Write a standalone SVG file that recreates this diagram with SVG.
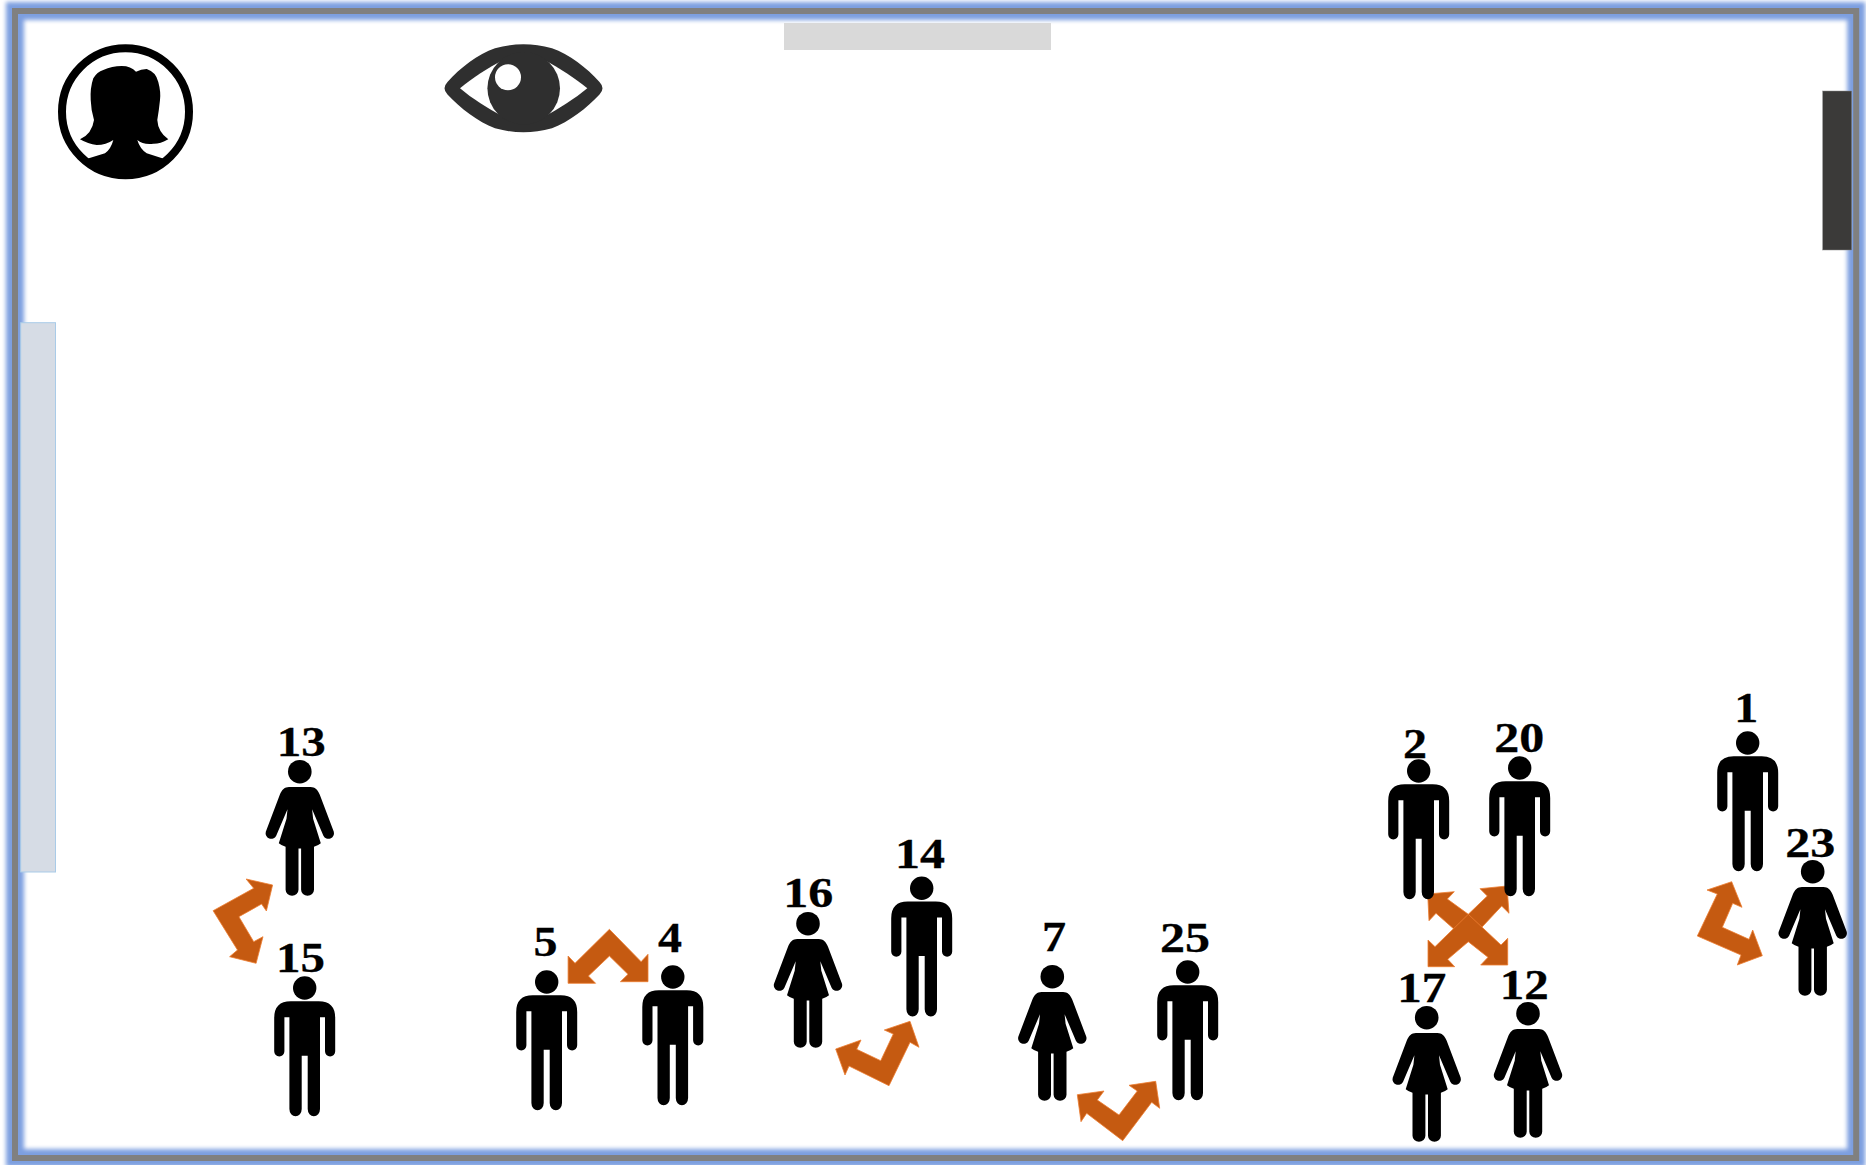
<svg xmlns="http://www.w3.org/2000/svg" xmlns:xlink="http://www.w3.org/1999/xlink" width="1866" height="1165" viewBox="0 0 1866 1165">
<style>
.lbl{font-family:"Liberation Serif","Times New Roman",serif;font-weight:700;font-size:43px;fill:#000;stroke:#000;stroke-width:.3;text-anchor:middle}
.arr{fill:#c55a11;stroke:#ed7d31;stroke-width:.8;stroke-linejoin:miter}
</style>
<defs>
<filter id="glow" x="-2%" y="-2%" width="104%" height="104%"><feGaussianBlur stdDeviation="2"/></filter>
<g id="man"><circle cx="0" cy="0" r="11.7"/><path d="M-14 13.3H14Q30.5 13.3 30.5 30V63.3A5.1 5.1 0 0 1 20.3 63.3V29.3H15.3V121A6.15 7.3 0 0 1 3 121V67.7H-3V121A6.15 7.3 0 0 1-15.3 121V29.3H-20.3V63.3A5.1 5.1 0 0 1-30.5 63.3V30Q-30.5 13.3-14 13.3Z"/></g>
<g id="woman"><circle cx="0" cy="0" r="11.8"/><path d="M-10.8 15.3H10.800C15 15.3 18 18 20 23L34 60A5.6 5.6 0 0 1 23.6 64L12.3 37.500L13.3 47L21 71.5Q18 74 14.2 75V118A6.45 6 0 0 1 1.300 118V76.7H-1.300V118A6.45 6 0 0 1-14.200 118V75Q-18 74-21 71.500L-13.300 47L-12.300 37.500L-23.600 64A5.6 5.6 0 0 1-34 60L-20 23C-18 18-15 15.300-10.800 15.300Z"/></g>
</defs>
<rect width="1866" height="1165" fill="#fff"/>
<g id="frame">
<rect x="15" y="11" width="1841.2" height="1147" fill="none" stroke="#7d9fe0" stroke-width="18" filter="url(#glow)"/>
<rect x="15" y="11" width="1841.2" height="1147" fill="none" stroke="#808080" stroke-width="6"/>
</g>
<g id="top-bar"><rect x="784" y="23" width="267" height="27" fill="#d9d9d9"/></g>
<g id="right-bar"><rect x="1822.7" y="91" width="29" height="159" fill="#3b3a39" stroke="#8a8a8a" stroke-width=".5"/></g>
<g id="left-bar"><rect x="20.7" y="322.7" width="34.8" height="549.3" fill="#d6dce5" stroke="#a9cbe8" stroke-width="1"/></g>
<g id="observer">
<path d="M121.7 66Q131 66 136 71.7Q141 69 146.700 69Q156 72 158.300 82Q161 92 160 100Q159 110 157.300 120Q158 132 168.300 139.300Q160 144 153.300 143.800Q143 145 137.300 140Q140 149 146.700 153.300L163 158.500L167 161.500A65 65 0 0 1 84 161.500L88 158.500L105 153.300Q111 149 113.300 140Q106 145 96.700 145Q88 144 80 139.300Q92 134 94 120Q91 110 90.700 100Q90 88 93.300 78.300Q97 72 103.300 70Q112 66 121.700 66Z" fill="#000"/>
<circle cx="125.500" cy="111.700" r="63.500" fill="none" stroke="#000" stroke-width="8"/>
</g>
<g id="eye">
<path d="M447.500 82C460 68 478 54 495 48.300C505 45.500 514 44.300 523.500 44.300C533 44.300 542 45.500 552 48.300C569 54 587 68 599.500 82Q605.500 88.300 599.500 94.600C587 108 569 122 552 128.300C542 131 533 132.300 523.500 132.300C514 132.300 505 131 495 128.300C478 122 460 108 447.500 94.600Q441.500 88.300 447.500 82Z" fill="#2f2f2f"/>
<path d="M460 88.300C472 78 488 68 503.300 60L544.300 60C559 68 575 78 587.300 88.300C575 98.600 559 108.600 544.300 116.500L503.300 116.500C488 108.600 472 98.600 460 88.300Z" fill="#fff"/>
<circle cx="523.700" cy="88.300" r="36.300" fill="#2f2f2f"/>
<circle cx="508" cy="77.200" r="13" fill="#fff"/>
</g>
<g id="connectors">
<polygon class="arr" points="272.6,885 266.4,911 261.6,904 238.9,916.7 253.7,941.7 263,936.7 256.1,963.3 229.6,956.7 237.5,950 213.1,910.7 253.7,888.3 246.1,879"/>
<polygon class="arr" points="609.4,929.3 641.1,961.7 648,954.3 648,981.7 620.4,981.7 628,974.3 609.4,956 588.4,976 595.6,983.3 568.1,983.3 568.1,956 575,963.3"/>
<polygon class="arr" points="835.7,1049 861,1040 856.7,1049.3 880.7,1060.7 893.3,1034 884.3,1030 910,1021.3 919,1047.3 910,1042.3 889,1085.7 849,1066 845,1075"/>
<polygon class="arr" points="1077.3,1094.7 1104,1091 1097.3,1100 1119,1115 1137.3,1091 1129,1085.3 1155.7,1081.3 1159.7,1108.3 1151.7,1102.3 1122.7,1140.7 1086.7,1113.3 1081,1121.7"/>
<polygon class="arr" points="1468.3,914.3 1487.3,896 1480,888.7 1507,886 1509,913.3 1501.7,906 1468.3,941.7 1436,913.3 1429,920.7 1427.7,894 1454.3,891.7 1447.3,899"/>
<polygon class="arr" points="1468.3,914.3 1501,945 1507.7,938.3 1507.7,965 1480.7,965 1488,957.3 1468.3,941.7 1447.7,959.3 1454.7,966.7 1428,966.7 1428,940 1435,946.7"/>
<polygon class="arr" points="1731.7,881.7 1742,907.3 1732.7,903.3 1722.3,927.3 1749,939.3 1752.7,930 1762.3,955.7 1737.3,965 1741,955 1697.3,936 1717.3,894 1707,890"/>
</g>
<g id="p13"><use href="#woman" x="299.8" y="771.7"/><text class="lbl" x="301.2" y="756" textLength="49" lengthAdjust="spacingAndGlyphs">13</text></g>
<g id="p15"><use href="#man" x="304.7" y="988"/><text class="lbl" x="300.5" y="972.3" textLength="49" lengthAdjust="spacingAndGlyphs">15</text></g>
<g id="p5"><use href="#man" x="546.7" y="982"/><text class="lbl" x="545.4" y="956" textLength="24" lengthAdjust="spacingAndGlyphs">5</text></g>
<g id="p4"><use href="#man" x="672.8" y="977"/><text class="lbl" x="670" y="951.7" textLength="24" lengthAdjust="spacingAndGlyphs">4</text></g>
<g id="p16"><use href="#woman" x="808" y="923.7"/><text class="lbl" x="808.3" y="907.3" textLength="50" lengthAdjust="spacingAndGlyphs">16</text></g>
<g id="p14"><use href="#man" x="921.7" y="888.3"/><text class="lbl" x="920" y="868.3" textLength="50" lengthAdjust="spacingAndGlyphs">14</text></g>
<g id="p7"><use href="#woman" x="1052.3" y="976.7"/><text class="lbl" x="1054" y="951" textLength="24" lengthAdjust="spacingAndGlyphs">7</text></g>
<g id="p25"><use href="#man" x="1187.7" y="972"/><text class="lbl" x="1185" y="952.3" textLength="50" lengthAdjust="spacingAndGlyphs">25</text></g>
<g id="p2"><use href="#man" x="1418.7" y="771"/><text class="lbl" x="1415" y="757.7" textLength="24" lengthAdjust="spacingAndGlyphs">2</text></g>
<g id="p20"><use href="#man" x="1519.7" y="768"/><text class="lbl" x="1519.3" y="751.7" textLength="50" lengthAdjust="spacingAndGlyphs">20</text></g>
<g id="p1"><use href="#man" x="1747.7" y="743"/><text class="lbl" x="1746.3" y="721.7" textLength="24" lengthAdjust="spacingAndGlyphs">1</text></g>
<g id="p23"><use href="#woman" x="1812.7" y="871.7"/><text class="lbl" x="1810.3" y="856.7" textLength="50" lengthAdjust="spacingAndGlyphs">23</text></g>
<g id="p17"><use href="#woman" x="1426.7" y="1017.7"/><text class="lbl" x="1421.7" y="1001.7" textLength="49" lengthAdjust="spacingAndGlyphs">17</text></g>
<g id="p12"><use href="#woman" x="1528" y="1013.7"/><text class="lbl" x="1524.3" y="999" textLength="49" lengthAdjust="spacingAndGlyphs">12</text></g>
</svg>
